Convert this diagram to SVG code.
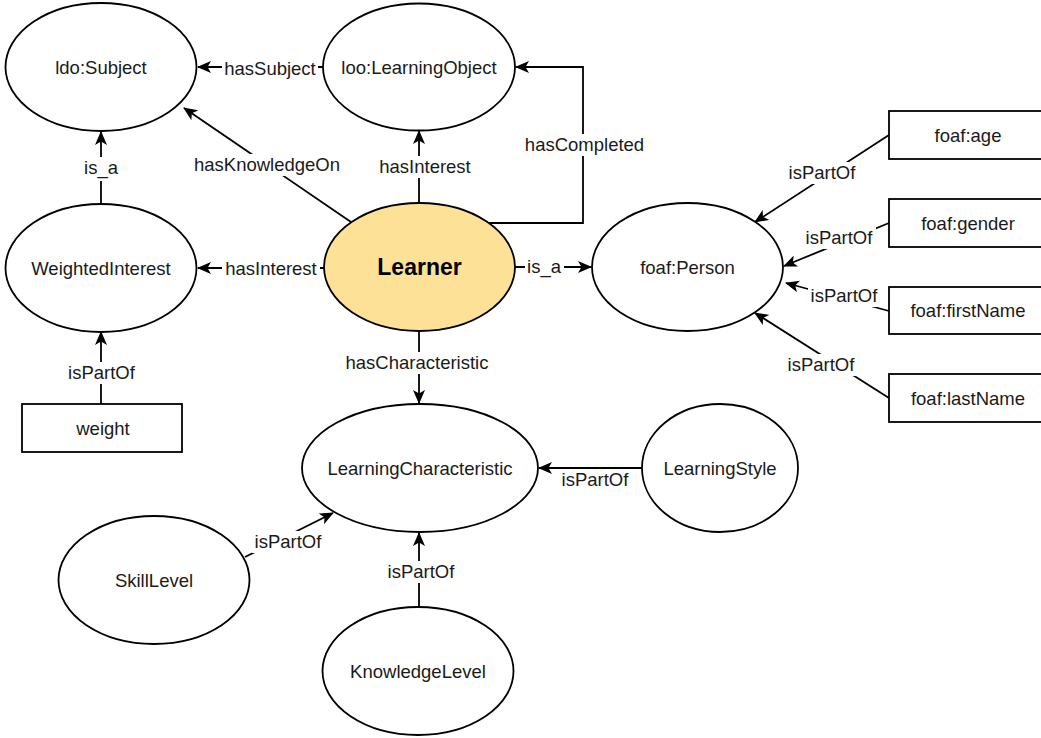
<svg xmlns="http://www.w3.org/2000/svg" width="1041" height="738" viewBox="0 0 1041 738">
  <style>
    .node { fill: #ffffff; stroke: #000000; stroke-width: 1.8; }
    .learner { fill: #fce196; stroke: #000000; stroke-width: 1.8; }
    .edge { fill: none; stroke: #000000; stroke-width: 1.8; marker-end: url(#arrow); }
    text { font-family: "Liberation Sans", Arial, sans-serif; font-size: 18.5px; fill: #1a1a1a; text-anchor: middle; }
    .title { font-weight: bold; font-size: 23px; fill: #000000; }
    .bg { fill: #ffffff; stroke: none; }
  </style>
  <defs>
    <marker id="arrow" viewBox="0 0 14 12" refX="13" refY="6" markerWidth="14" markerHeight="12" markerUnits="userSpaceOnUse" orient="auto">
      <path d="M0,0 L14,6 L0,12 L3.5,6 Z" fill="#000000"/>
    </marker>
  </defs>
  <rect width="1041" height="738" fill="#ffffff"/>

  <!-- connectors -->
  <g id="connectors">
    <path class="edge" d="M323,67 L198,67"/>
    <path class="edge" d="M351,222 L184,108"/>
    <path class="edge" d="M101,204 L101,132"/>
    <path class="edge" d="M419,203 L419,131"/>
    <path class="edge" d="M488,223 L583,223 L583,67 L516,67"/>
    <path class="edge" d="M324,268 L198,268"/>
    <path class="edge" d="M515,267 L591,267"/>
    <path class="edge" d="M419,331 L419,403"/>
    <path class="edge" d="M101,404 L101,332"/>
    <path class="edge" d="M642,468 L539,468"/>
    <path class="edge" d="M245,557 L333,513"/>
    <path class="edge" d="M419,607 L419,533"/>
    <path class="edge" d="M889,135 L755,222"/>
    <path class="edge" d="M889,223 L784,266"/>
    <path class="edge" d="M889,311 L786,283"/>
    <path class="edge" d="M889,398 L755,313"/>

    <!-- edge labels -->
    <rect class="bg" x="222" y="58" width="96" height="22"/>
    <text x="270" y="75">hasSubject</text>
    <rect class="bg" x="190" y="154" width="154" height="22"/>
    <text x="267" y="171">hasKnowledgeOn</text>
    <rect class="bg" x="83" y="157" width="36" height="24"/>
    <text x="101" y="174">is_a</text>
    <rect class="bg" x="377" y="156" width="96" height="22"/>
    <text x="425" y="173">hasInterest</text>
    <rect class="bg" x="522" y="134" width="125" height="22"/>
    <text x="584.5" y="151">hasCompleted</text>
    <rect class="bg" x="222" y="258" width="98" height="22"/>
    <text x="271" y="274.5">hasInterest</text>
    <rect class="bg" x="525" y="256" width="39" height="24"/>
    <text x="544" y="273">is_a</text>
    <rect class="bg" x="341" y="352" width="152" height="22"/>
    <text x="417" y="369">hasCharacteristic</text>
    <rect class="bg" x="65" y="362" width="73" height="22"/>
    <text x="101.5" y="379">isPartOf</text>
    <text x="595" y="486">isPartOf</text>
    <rect class="bg" x="252" y="531" width="73" height="22"/>
    <text x="288" y="548">isPartOf</text>
    <rect class="bg" x="385" y="561" width="73" height="22"/>
    <text x="421" y="578">isPartOf</text>
    <rect class="bg" x="786" y="162" width="73" height="22"/>
    <text x="822" y="179">isPartOf</text>
    <rect class="bg" x="803" y="227" width="73" height="22"/>
    <text x="839" y="244">isPartOf</text>
    <rect class="bg" x="808" y="285" width="73" height="22"/>
    <text x="844" y="302">isPartOf</text>
    <rect class="bg" x="785" y="354" width="73" height="22"/>
    <text x="821" y="371">isPartOf</text>
  </g>

  <!-- nodes -->
  <g id="ldo-subject">
    <ellipse class="node" cx="101" cy="67" rx="95.5" ry="64"/>
    <text x="101" y="73.5">ldo:Subject</text>
  </g>
  <g id="loo-learning-object">
    <ellipse class="node" cx="419" cy="67" rx="96" ry="63.5"/>
    <text x="419" y="73.5">loo:LearningObject</text>
  </g>
  <g id="weighted-interest">
    <ellipse class="node" cx="101" cy="268" rx="95.5" ry="64"/>
    <text x="101" y="274.5">WeightedInterest</text>
  </g>
  <g id="learner">
    <ellipse class="learner" cx="419.5" cy="267" rx="95.5" ry="64"/>
    <text class="title" x="419.5" y="275">Learner</text>
  </g>
  <g id="foaf-person">
    <ellipse class="node" cx="687.5" cy="267" rx="95.5" ry="64"/>
    <text x="687.5" y="274">foaf:Person</text>
  </g>
  <g id="foaf-age">
    <rect class="node" x="889" y="111" width="160" height="48"/>
    <text x="968" y="141.5">foaf:age</text>
  </g>
  <g id="foaf-gender">
    <rect class="node" x="889" y="199" width="160" height="48"/>
    <text x="968" y="229.5">foaf:gender</text>
  </g>
  <g id="foaf-firstname">
    <rect class="node" x="889" y="287" width="160" height="47"/>
    <text x="968" y="317">foaf:firstName</text>
  </g>
  <g id="foaf-lastname">
    <rect class="node" x="889" y="374" width="160" height="48"/>
    <text x="968" y="404.5">foaf:lastName</text>
  </g>
  <g id="weight">
    <rect class="node" x="22" y="404" width="160" height="48"/>
    <text x="103" y="434.5">weight</text>
  </g>
  <g id="learning-characteristic">
    <ellipse class="node" cx="420" cy="468" rx="118" ry="64"/>
    <text x="420" y="474.5">LearningCharacteristic</text>
  </g>
  <g id="learning-style">
    <ellipse class="node" cx="720" cy="468" rx="78" ry="64"/>
    <text x="720" y="474.5">LearningStyle</text>
  </g>
  <g id="skill-level">
    <ellipse class="node" cx="154" cy="580" rx="95.5" ry="64"/>
    <text x="154" y="586.5">SkillLevel</text>
  </g>
  <g id="knowledge-level">
    <ellipse class="node" cx="418" cy="671" rx="95.5" ry="64"/>
    <text x="418" y="677.5">KnowledgeLevel</text>
  </g>
</svg>
